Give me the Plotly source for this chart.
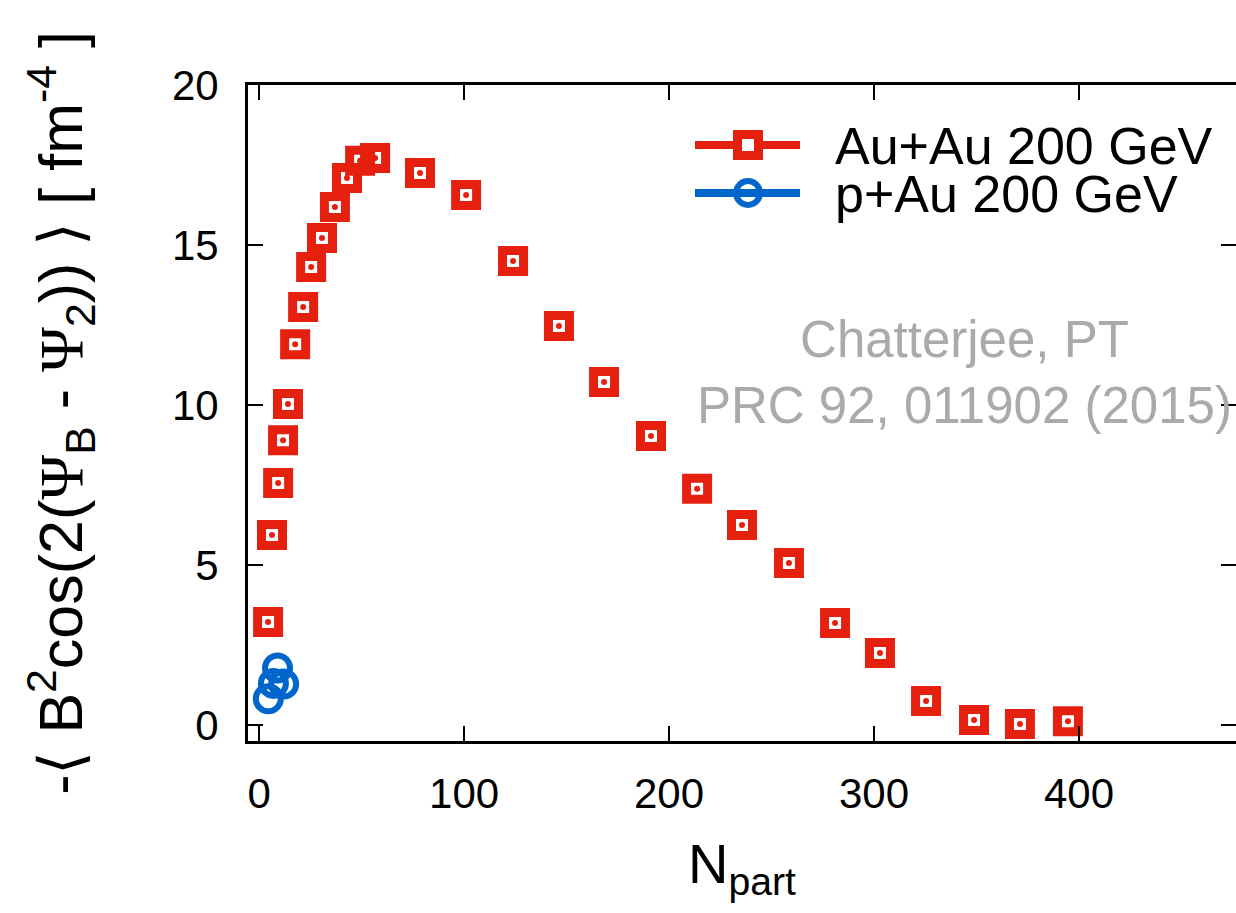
import plotly.graph_objects as go

# Au+Au 200 GeV
auau_npart = [4.4, 6.3, 9.3, 11.7, 14.1, 17.6, 21.5, 25.4, 30.7, 37.0, 42.9, 49.3, 56.6,
              78.5, 101.0, 123.9, 146.3, 168.3, 191.2, 213.7, 235.6, 258.5, 281.0, 302.9,
              325.4, 348.8, 371.2, 394.6]
auau_val = [3.22, 5.94, 7.56, 8.90, 10.03, 11.90, 13.06, 14.31, 15.22, 16.19, 17.09, 17.63, 17.72,
            17.25, 16.56, 14.50, 12.47, 10.72, 9.03, 7.38, 6.25, 5.06, 3.19, 2.25,
            0.75, 0.16, 0.03, 0.12]

# p+Au 200 GeV
pau_npart = [4.5, 7.0, 9.0, 12.0]
pau_val = [0.82, 1.30, 1.78, 1.28]

x_ticks = [0, 100, 200, 300, 400]
y_ticks = [0, 5, 10, 15, 20]

series_names = ["Au+Au 200 GeV", "p+Au 200 GeV"]

RED = "#e5200f"
BLUE = "#0066cc"
FONT = "Liberation Sans"

W, H = 1236, 913
ML, MR, MT, MB = 248, 0, 85, 172
PW, PH = W - ML - MR, H - MT - MB


def px(xp):
    return (xp - ML) / PW


def py(yp):
    return (H - MB - yp) / PH


fig = go.Figure()

fig.add_trace(go.Scatter(x=auau_npart, y=auau_val, mode="markers", name=series_names[0],
                         showlegend=False,
                         marker=dict(symbol="square-open", size=21, color=RED,
                                     line=dict(width=9, color=RED))))
fig.add_trace(go.Scatter(x=auau_npart, y=auau_val, mode="markers", showlegend=False,
                         hoverinfo="skip",
                         marker=dict(symbol="circle", size=6, color=RED, line=dict(width=0))))
fig.add_trace(go.Scatter(x=pau_npart, y=pau_val, mode="markers", name=series_names[1],
                         showlegend=False,
                         marker=dict(symbol="circle-open", size=25, color=BLUE,
                                     line=dict(width=6, color=BLUE))))

# hand-drawn legend (gnuplot style key)
shapes = []
annotations = []
key_rows = [(145, RED, "square", series_names[0]), (193, BLUE, "circle", series_names[1])]
for yc, col, sym, label in key_rows:
    shapes.append(dict(type="line", xref="paper", yref="paper",
                       x0=px(695), x1=px(800), y0=py(yc), y1=py(yc),
                       line=dict(color=col, width=8)))
    if sym == "square":
        shapes.append(dict(type="rect", xref="paper", yref="paper",
                           x0=px(748 - 10.5), x1=px(748 + 10.5),
                           y0=py(yc + 10.5), y1=py(yc - 10.5),
                           fillcolor="white", line=dict(color=col, width=9)))
    else:
        shapes.append(dict(type="circle", xref="paper", yref="paper",
                           x0=px(748 - 12), x1=px(748 + 12),
                           y0=py(yc + 12), y1=py(yc - 12),
                           line=dict(color=col, width=6)))
    annotations.append(dict(text=label, xref="paper", yref="paper",
                            x=px(833), y=py(yc + 1), xanchor="left", yanchor="middle",
                            showarrow=False, font=dict(family=FONT, size=52, color="black")))

annotations.append(dict(text="Chatterjee, PT<br>PRC 92, 011902 (2015)", xref="paper", yref="paper",
                        x=px(964), y=py(372), xanchor="center", yanchor="middle", align="center",
                        showarrow=False, font=dict(family=FONT, size=51, color="#aaaaaa")))

psi = '<span style="font-family:Liberation Serif">Ψ</span>'
ytitle = f"-⟨ B<sup>2</sup>cos(2({psi}<sub>B</sub> - {psi}<sub>2</sub>)) ⟩ [ fm<sup>-4</sup> ]"

fig.update_layout(
    width=W, height=H,
    margin=dict(l=ML, r=MR, t=MT, b=MB, autoexpand=False),
    paper_bgcolor="white", plot_bgcolor="white",
    font=dict(family=FONT, size=42, color="black"),
    showlegend=False,
    xaxis=dict(range=[-5.4, 476.6], tickvals=x_ticks, ticks="inside", ticklen=15, tickwidth=2,
               tickcolor="black", showline=True, linecolor="black", linewidth=3,
               mirror="ticks", showgrid=False, zeroline=False, ticklabelstandoff=14,
               tickfont=dict(family=FONT, size=42),
               title=dict(text="N<sub>part</sub>", font=dict(family=FONT, size=56), standoff=28)),
    yaxis=dict(range=[-0.5, 20], tickvals=y_ticks, ticks="inside", ticklen=15, tickwidth=2,
               tickcolor="black", showline=True, linecolor="black", linewidth=3,
               mirror="ticks", showgrid=False, zeroline=False, ticklabelstandoff=18,
               tickfont=dict(family=FONT, size=42),
               title=dict(text=ytitle, font=dict(family=FONT, size=61), standoff=70)),
    shapes=shapes,
    annotations=annotations,
)

fig.write_html("out.html",
               config={"displayModeBar": False},
               post_script="document.body.style.margin='0';document.body.style.padding='0';"
                           "document.body.style.overflow='hidden';")
